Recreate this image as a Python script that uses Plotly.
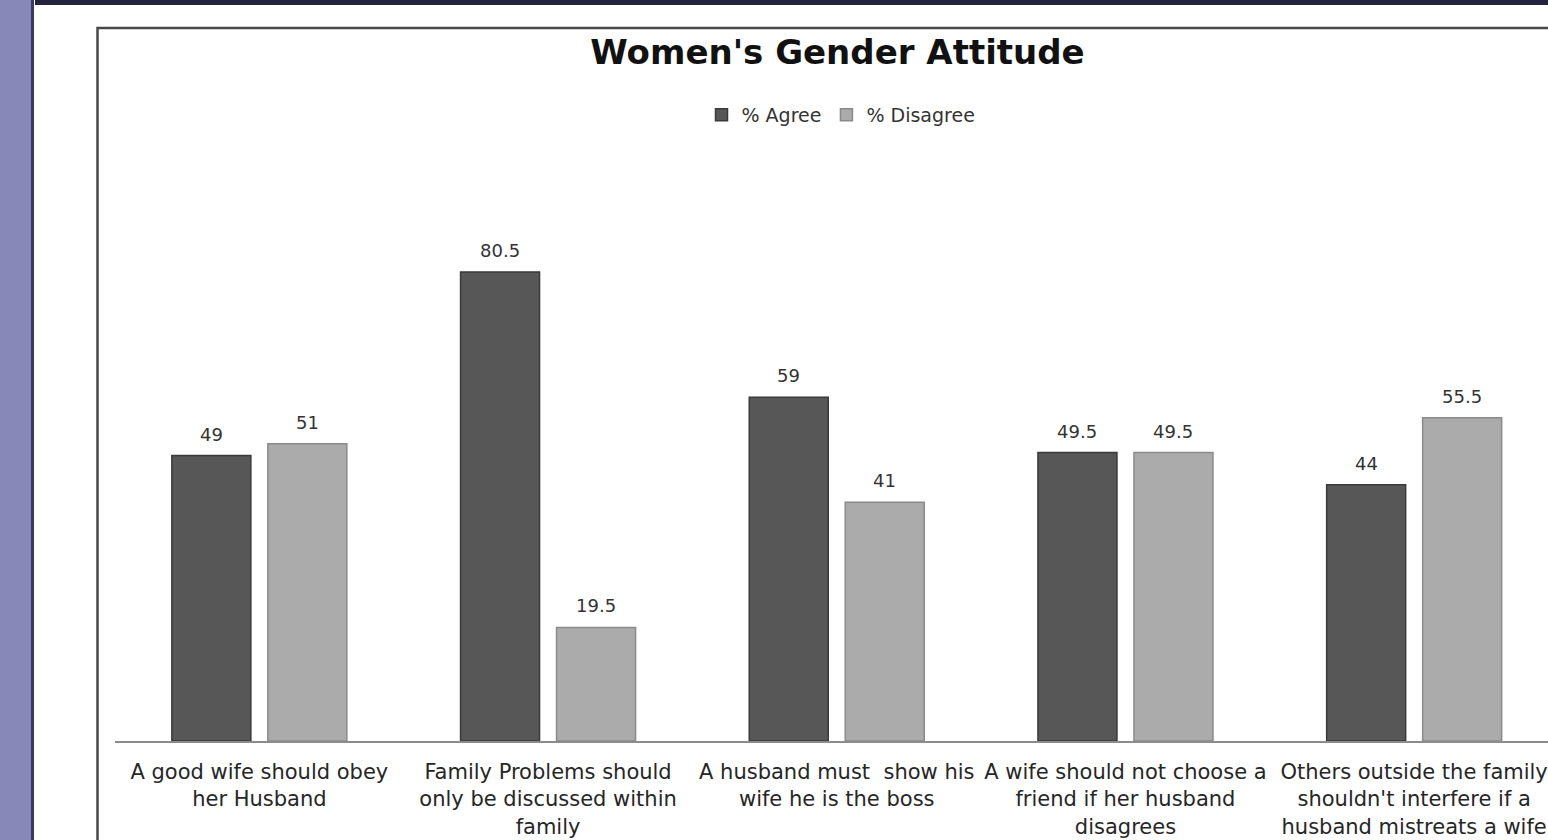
import plotly.graph_objects as go

categories = [
    "A good wife should obey<br>her Husband",
    "Family Problems should<br>only be discussed within<br>family",
    "A husband must  show his<br>wife he is the boss",
    "A wife should not choose a<br>friend if her husband<br>disagrees",
    "Others outside the family<br>shouldn't interfere if a<br>husband mistreats a wife",
]
agree = [49, 80.5, 59, 49.5, 44]
disagree = [51, 19.5, 41, 49.5, 55.5]
series_names = ["% Agree", "% Disagree"]

W, H = 1548, 840
FONT = "DejaVu Sans"

fig = go.Figure()
fig.add_trace(go.Bar(
    x=list(range(len(categories))), y=agree, name=series_names[0],
    marker=dict(color="#575757", line=dict(color="#3a3a3a", width=1.5)),
))
fig.add_trace(go.Bar(
    x=list(range(len(categories))), y=disagree, name=series_names[1],
    marker=dict(color="#ababab", line=dict(color="#8a8a8a", width=1.5)),
))

annotations = []
for i, (a, d) in enumerate(zip(agree, disagree)):
    for v, xs in ((a, -48), (d, 48)):
        annotations.append(dict(
            x=i, y=v, xref="x", yref="y", text=f"{v:g}", showarrow=False,
            xshift=xs, yshift=9, yanchor="bottom", xanchor="center",
            font=dict(family=FONT, size=18, color="#333333"),
        ))

shapes = [
    # left purple strip
    dict(type="rect", xref="paper", yref="paper", x0=0, x1=31 / W, y0=0, y1=1,
         fillcolor="#8888b8", line=dict(width=0), layer="below"),
    dict(type="rect", xref="paper", yref="paper", x0=31 / W, x1=34 / W, y0=0, y1=1,
         fillcolor="#3a3a60", line=dict(width=0), layer="below"),
    # top dark band
    dict(type="rect", xref="paper", yref="paper", x0=35 / W, x1=1, y0=(H - 5) / H, y1=1,
         fillcolor="#24243f", line=dict(width=0), layer="below"),
    # chart border
    dict(type="rect", xref="paper", yref="paper", x0=97.5 / W, x1=1.02, y0=-0.02, y1=(H - 28) / H,
         fillcolor="rgba(0,0,0,0)", line=dict(color="#484848", width=2.5), layer="below"),
]

cat_w = (W - 115) / 288.7

fig.update_layout(
    width=W, height=H,
    margin=dict(l=0, r=0, t=0, b=0),
    paper_bgcolor="white", plot_bgcolor="rgba(0,0,0,0)",
    barmode="group", bargap=0.335, bargroupgap=0.177,
    title=dict(text="<b>Women's Gender Attitude</b>", x=837.5 / W, xanchor="center",
               y=(H - 52) / H, yanchor="middle", yref="container",
               font=dict(family=FONT, size=34, color="#111111")),
    legend=dict(orientation="h", x=841 / W, xanchor="center", y=(H - 115) / H, yanchor="middle",
                font=dict(family=FONT, size=19, color="#333333"), bgcolor="rgba(0,0,0,0)"),
    xaxis=dict(domain=[115 / W, 1], range=[-0.5, -0.5 + cat_w],
               tickmode="array", tickvals=list(range(len(categories))), ticktext=categories,
               showline=True, linecolor="#8c8c8c", linewidth=1.5,
               ticks="outside", ticklen=11, tickcolor="rgba(0,0,0,0)",
               showgrid=False, zeroline=False,
               tickfont=dict(family=FONT, size=21, color="#262626")),
    yaxis=dict(domain=[99 / H, (H - 158.4) / H], range=[0, 100], visible=False),
    shapes=shapes,
    annotations=annotations,
)

fig.write_html("out.html")
